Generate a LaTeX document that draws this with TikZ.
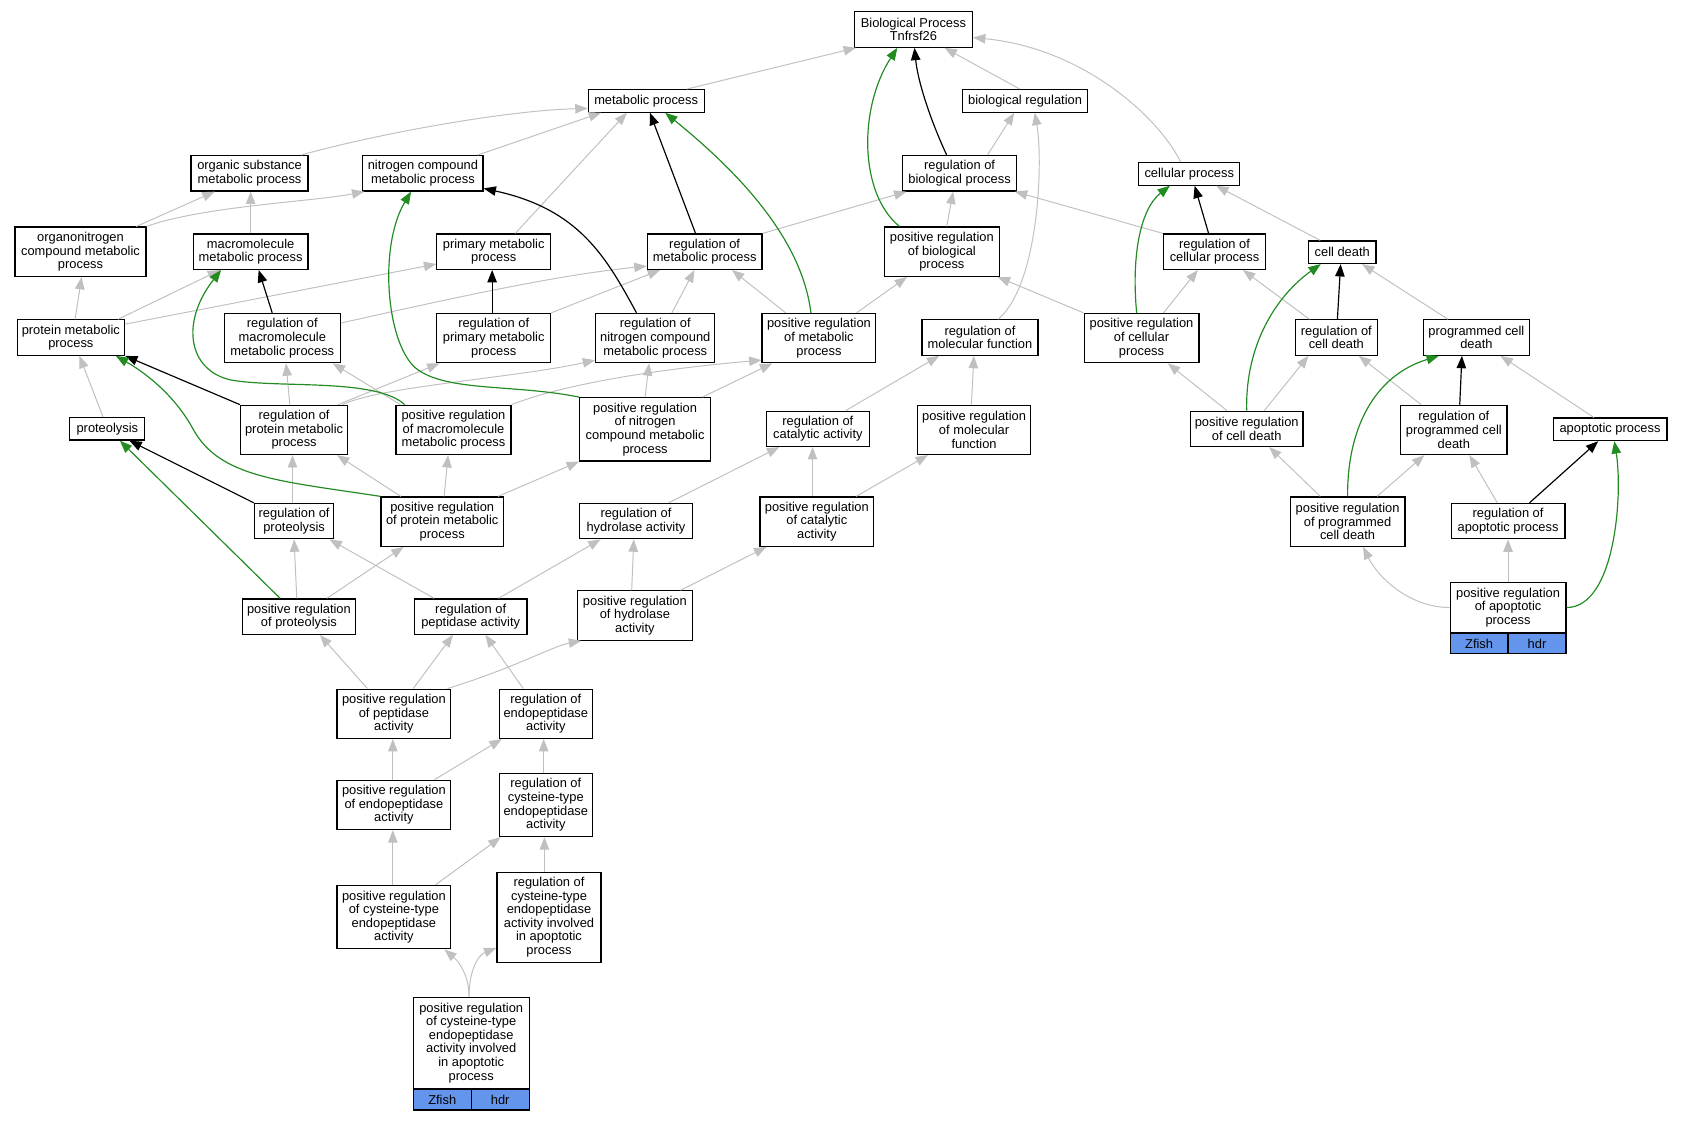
\documentclass[tikz,border=0pt]{standalone}
\usepackage{fontspec}
\setmainfont{Liberation Sans}
\usetikzlibrary{arrows.meta}
\definecolor{edgegray}{HTML}{C0C0C0}
\definecolor{fgreen}{HTML}{228B22}
\definecolor{cblue}{HTML}{6495ED}
\newcommand\fs{\fontsize{12}{12.7}\selectfont}
\newcommand\gonode[6]{\node[box,minimum width=#4pt,minimum height=#5pt] (#1) at (#2,#3) {#6};}
\tikzset{
  box/.style={draw=black, line width=1.1pt, fill=white, inner sep=0pt, align=center, font=\fs, text=black},
  zf/.style={draw=black, line width=1.1pt, fill=cblue, inner sep=0pt, align=center, font=\fs, text=black, minimum width=54pt, minimum height=19pt},
  tip/.style={-{Triangle[length=11.5pt,width=8.8pt]}},
  ge/.style={draw=edgegray, line width=0.9pt, tip},
  be/.style={draw=black, line width=1.1pt, tip},
  gr/.style={draw=fgreen, line width=1.1pt, tip},
}
\begin{document}
\begin{tikzpicture}[x=1pt,y=-1pt]
\fill[white] (0,0) rectangle (1568,1043.5);
\useasboundingbox (0,0) rectangle (1568,1043.5);
% nodes
\gonode{bp}{851}{27.5}{110}{33}{Biological Process\\Tnfrsf26}
\gonode{mp}{602}{94}{108}{21}{metabolic process}
\gonode{br}{955}{94}{116}{21}{biological regulation}
\gonode{osm}{232.5}{161.5}{109}{33}{organic substance\\metabolic process}
\gonode{ncm}{394}{161.5}{112}{33}{nitrogen compound\\metabolic process}
\gonode{rbp}{894}{161.5}{106}{33}{regulation of\\biological process}
\gonode{cp}{1108}{162}{94}{21}{cellular process}
\gonode{onc}{75}{234.5}{122}{46}{organonitrogen\\compound metabolic\\process}
\gonode{mmp}{233.5}{234.5}{107}{33}{macromolecule\\metabolic process}
\gonode{pmp}{460}{234.5}{106}{33}{primary metabolic\\process}
\gonode{rmp}{656.5}{234.5}{107}{33}{regulation of\\metabolic process}
\gonode{prbp}{877.5}{234.5}{107}{46}{positive regulation\\of biological\\process}
\gonode{rcp}{1131.5}{234.5}{95}{33}{regulation of\\cellular process}
\gonode{cd}{1250.5}{235}{63}{21}{cell death}
\gonode{prot}{66}{314.5}{100}{33}{protein metabolic\\process}
\gonode{rmmp}{263}{315}{108}{46}{regulation of\\macromolecule\\metabolic process}
\gonode{rpmp}{460}{315}{106}{46}{regulation of\\primary metabolic\\process}
\gonode{rncm}{610.5}{315}{111}{46}{regulation of\\nitrogen compound\\metabolic process}
\gonode{prmp}{763}{315}{106}{46}{positive regulation\\of metabolic\\process}
\gonode{rmf}{913}{314.5}{108}{33}{regulation of\\molecular function}
\gonode{prcp}{1063.5}{315}{107}{46}{positive regulation\\of cellular\\process}
\gonode{rcd}{1245}{314.5}{76}{33}{regulation of\\cell death}
\gonode{pcd}{1375.5}{314.5}{99}{33}{programmed cell\\death}
\gonode{pl}{100}{399.5}{70}{21}{proteolysis}
\gonode{rpm}{274}{400.5}{100}{46}{regulation of\\protein metabolic\\process}
\gonode{prmm}{422.5}{400.5}{107}{46}{positive regulation\\of macromolecule\\metabolic process}
\gonode{prnc}{601}{400}{122}{59}{positive regulation\\of nitrogen\\compound metabolic\\process}
\gonode{rca}{762}{399.5}{96}{33}{regulation of\\catalytic activity}
\gonode{prmf}{907.5}{400.5}{105}{46}{positive regulation\\of molecular\\function}
\gonode{prcd}{1161.5}{399.5}{105}{33}{positive regulation\\of cell death}
\gonode{rpcd}{1354.5}{400.5}{99}{46}{regulation of\\programmed cell\\death}
\gonode{ap}{1500}{400}{106}{21}{apoptotic process}
\gonode{rpl}{274}{485.5}{74}{33}{regulation of\\proteolysis}
\gonode{prpm}{412}{486}{114}{46}{positive regulation\\of protein metabolic\\process}
\gonode{rha}{592.5}{485.5}{105}{33}{regulation of\\hydrolase activity}
\gonode{prca}{761}{486}{106}{46}{positive regulation\\of catalytic\\activity}
\gonode{prpcd}{1255.5}{486}{107}{46}{positive regulation\\of programmed\\cell death}
\gonode{rap}{1405}{485.5}{106}{33}{regulation of\\apoptotic process}
\gonode{prpl}{278.5}{574.5}{105}{33}{positive regulation\\of proteolysis}
\gonode{rpa}{438.5}{574.5}{105}{33}{regulation of\\peptidase activity}
\gonode{prha}{591.5}{573.5}{107}{46}{positive regulation\\of hydrolase\\activity}
\gonode{prap}{1405}{566}{108}{46}{positive regulation\\of apoptotic\\process}
\gonode{prpa}{367}{665}{106}{46}{positive regulation\\of peptidase\\activity}
\gonode{rea}{508.5}{665}{87}{46}{regulation of\\endopeptidase\\activity}
\gonode{prea}{367}{750}{106}{46}{positive regulation\\of endopeptidase\\activity}
\gonode{rcea}{508.5}{750}{87}{59}{regulation of\\cysteine-type\\endopeptidase\\activity}
\gonode{prcea}{367}{854.5}{106}{59}{positive regulation\\of cysteine-type\\endopeptidase\\activity}
\gonode{rceaa}{511.5}{854.5}{97}{84}{regulation of\\cysteine-type\\endopeptidase\\activity involved\\in apoptotic\\process}
\gonode{bot}{439}{971.5}{108}{85}{positive regulation\\of cysteine-type\\endopeptidase\\activity involved\\in apoptotic\\process}
\node[zf, anchor=north west] (botz) at (bot.south west) {Zfish};
\node[zf, anchor=north east] (both) at (bot.south east) {hdr};
\node[zf, anchor=north west] (prapz) at (prap.south west) {Zfish};
\node[zf, anchor=north east] (praph) at (prap.south east) {hdr};
% grey edges
\draw[ge] ([xshift=38pt]mp.north) -- ([xshift=2pt]bp.south west);
\draw[ge] ([xshift=-5pt]br.north) -- ([xshift=29pt]bp.south);
\draw[ge] ([xshift=-8pt]cp.north) .. controls (1080,110) and (1010,45) .. ([yshift=-7.5pt]bp.east);
\draw[ge] ([xshift=-7pt]osm.north east) .. controls (350,125) and (470,103) .. ([yshift=-7pt]mp.west);
\draw[ge] ([xshift=51pt]ncm.north) -- ([xshift=-42pt]mp.south);
\draw[ge] ([xshift=20pt]pmp.north) -- ([xshift=-18pt]mp.south);
\draw[ge] ([xshift=26pt]rbp.north) -- ([xshift=-10pt]br.south);
\draw[ge] ([xshift=17pt]rmf.north) .. controls (968,265) and (972,150) .. ([xshift=9pt]br.south);
\draw[ge] ([xshift=52pt]onc.north) -- ([xshift=-32.5pt]osm.south);
\draw[ge] (onc.north east) .. controls (190,192) and (290,188) .. ([xshift=2pt]ncm.south west);
\draw[ge] (mmp.north) -- (mmp.north |- osm.south);
\draw[ge] ([xshift=4.5pt]prbp.north) -- ([xshift=-6pt]rbp.south);
\draw[ge] (rmp.north east) -- ([xshift=4pt]rbp.south west);
\draw[ge] (rcp.north west) -- ([xshift=-2pt]rbp.south east);
\draw[ge] ([xshift=-20.5pt]cd.north) -- ([xshift=25pt]cp.south);
\draw[ge] ([xshift=4pt]prot.north) -- ([xshift=1pt]onc.south);
\draw[ge] ([xshift=44pt]prot.north) -- ([xshift=-28.5pt]mmp.south);
\draw[ge] ([yshift=12.5pt]prot.east) -- ([yshift=-11.5pt]pmp.west);
\draw[ge] ([yshift=14pt]rmmp.east) .. controls (420,278) and (520,256) .. ([yshift=-13.5pt]rmp.west);
\draw[ge] (rpmp.north east) -- ([xshift=-41.5pt]rmp.south);
\draw[ge] ([xshift=15.5pt]rncm.north) -- ([xshift=-9.5pt]rmp.south);
\draw[ge] ([xshift=-31pt]prmp.north) -- ([xshift=25.5pt]rmp.south);
\draw[ge] ([xshift=35pt]prmp.north) -- ([xshift=-32.5pt]prbp.south);
\draw[ge] (prcp.north west) -- ([xshift=-2pt]prbp.south east);
\draw[ge] ([xshift=20.5pt]prcp.north) -- ([xshift=-15.5pt]rcp.south);
\draw[ge] ([xshift=-25pt]rcd.north) -- ([xshift=26.5pt]rcp.south);
\draw[ge] ([xshift=-26.5pt]pcd.north) -- ([xshift=18.5pt]cd.south);
\draw[ge] ([xshift=-4pt]pl.north) -- ([xshift=8pt]prot.south);
\draw[ge] ([xshift=-4pt]rpm.north) -- ([xshift=3.5pt]rmmp.south);
\draw[ge] ([xshift=41pt]rpm.north) -- ([xshift=3pt]rpmp.south west);
\draw[ge] ([xshift=45pt]rpm.north) .. controls (355,360) and (480,352) .. ([yshift=3pt]rncm.south west);
\draw[ge] ([xshift=-49.5pt]prmm.north) -- ([xshift=47pt]rmmp.south);
\draw[ge] (prmm.north east) .. controls (520,360) and (600,345) .. ([yshift=3pt]prmp.south west);
\draw[ge] (prnc.north) -- ([xshift=-5.7pt]rncm.south);
\draw[ge] ([xshift=53.5pt]prnc.north) -- ([xshift=10pt]prmp.south west);
\draw[ge] ([xshift=26pt]rca.north) -- ([xshift=-38pt]rmf.south);
\draw[ge] ([xshift=-2.5pt]prmf.north) -- ([xshift=-5.6pt]rmf.south);
\draw[ge] ([xshift=-18.5pt]prcd.north) -- ([xshift=24.5pt]prcp.south);
\draw[ge] ([xshift=16.5pt]prcd.north) -- ([xshift=-26pt]rcd.south);
\draw[ge] ([xshift=-30.5pt]rpcd.north) -- ([xshift=21pt]rcd.south);
\draw[ge] ([xshift=-15pt]ap.north) -- ([xshift=22.5pt]pcd.south);
\draw[ge] ([xshift=-1.5pt]rpl.north) -- ([xshift=-1.5pt]rpm.south);
\draw[ge] ([xshift=-38.6pt]prpm.north) -- ([xshift=40pt]rpm.south);
\draw[ge] ([xshift=1.8pt]prpm.north) -- ([xshift=-5pt]prmm.south);
\draw[ge] ([xshift=52pt]prpm.north) -- (prnc.south west);
\draw[ge] ([xshift=30.5pt]rha.north) -- ([xshift=-36pt]rca.south);
\draw[ge] ([xshift=-4pt]prca.north) -- ([xshift=-5pt]rca.south);
\draw[ge] ([xshift=36.7pt]prca.north) -- ([xshift=-43pt]prmf.south);
\draw[ge] ([xshift=-25.5pt]prpcd.north) -- ([xshift=21pt]prcd.south);
\draw[ge] ([xshift=27.5pt]prpcd.north) -- ([xshift=-27.5pt]rpcd.south);
\draw[ge] ([xshift=-10pt]rap.north) -- ([xshift=14.5pt]rpcd.south);
\draw[ge] ([xshift=-2pt]prpl.north) -- (rpl.south);
\draw[ge] ([xshift=26pt]prpl.north) -- ([xshift=-36pt]prpm.south);
\draw[ge] ([xshift=-34pt]rpa.north) -- ([xshift=33pt]rpl.south);
\draw[ge] ([xshift=26pt]rpa.north) -- ([xshift=-33pt]rha.south);
\draw[ge] ([xshift=-3pt]prha.north) -- ([xshift=-2pt]rha.south);
\draw[ge] ([xshift=42.5pt]prha.north) -- ([xshift=-47pt]prca.south);
\draw[ge] (prap.west) .. controls (1315,566) and (1285,540) .. ([xshift=14.5pt]prpcd.south);
\draw[ge] (prap.north) -- (rap.south);
\draw[ge] ([xshift=-24.7pt]prpa.north) -- ([xshift=19.5pt]prpl.south);
\draw[ge] ([xshift=18pt]prpa.north) -- ([xshift=-16.5pt]rpa.south);
\draw[ge] ([xshift=50pt]prpa.north) .. controls (480,622) and (515,602) .. ([xshift=4pt]prha.south west);
\draw[ge] ([xshift=-21pt]rea.north) -- ([xshift=13.7pt]rpa.south);
\draw[ge] ([xshift=-1pt]prea.north) -- ([xshift=-1pt]prpa.south);
\draw[ge] ([xshift=37.7pt]prea.north) -- ([xshift=3pt]rea.south west);
\draw[ge] ([xshift=-2pt]rcea.north) -- ([xshift=-2pt]rea.south);
\draw[ge] ([xshift=-1pt]prcea.north) -- ([xshift=-1pt]prea.south);
\draw[ge] ([xshift=38.6pt]prcea.north) -- ([xshift=2pt]rcea.south west);
\draw[ge] ([xshift=-4.3pt]rceaa.north) -- ([xshift=-1.3pt]rcea.south);
\draw[ge] ([xshift=-2pt]bot.north) .. controls (437,912) and (430,898) .. ([xshift=47pt]prcea.south);
\draw[ge] ([xshift=-2pt]bot.north) .. controls (437,905) and (445,890) .. ([yshift=14pt]rceaa.south west);
% black edges
\draw[be] ([xshift=-12pt]rbp.north) .. controls (866,110) and (855,75) .. ([xshift=1pt]bp.south);
\draw[be] ([xshift=-8.5pt]rmp.north) -- ([xshift=3.5pt]mp.south);
\draw[be] ([xshift=-17.5pt]rncm.north) .. controls (565,240) and (540,195) .. ([yshift=3pt]ncm.south east);
\draw[be] ([xshift=-9.4pt]rmmp.north) -- ([xshift=7.5pt]mmp.south);
\draw[be] ([xshift=-1.5pt]rpmp.north) -- ([xshift=-1.5pt]pmp.south);
\draw[be] ([xshift=-5.5pt]rcp.north) -- ([xshift=5pt]cp.south);
\draw[be] ([xshift=1pt]rcd.north) -- ([xshift=-1.5pt]cd.south);
\draw[be] ([xshift=5.5pt]rpcd.north) -- ([xshift=-13.5pt]pcd.south);
\draw[be] ([xshift=20pt]rap.north) -- ([xshift=-11pt]ap.south);
\draw[be] (rpm.north west) -- (prot.south east);
\draw[be] (rpl.north west) -- ([xshift=20.6pt]pl.south);
% green edges
\draw[gr] ([xshift=-39.5pt]prbp.north) .. controls (800,180) and (800,100) .. ([xshift=-15pt]bp.south);
\draw[gr] ([xshift=-7.5pt]prmp.north) .. controls (748,230) and (700,170) .. ([xshift=17.7pt]mp.south);
\draw[gr] ([xshift=-45.5pt]prmm.north) .. controls (350,352) and (260,362) .. (215,354) .. controls (175,345) and (168,300) .. ([xshift=-27.5pt]mmp.south);
\draw[gr] (prnc.north west) .. controls (480,358) and (420,365) .. (390,345) .. controls (360,325) and (352,230) .. ([xshift=-11pt]ncm.south);
\draw[gr] (prpm.north west) .. controls (260,448) and (205,445) .. (180,400) .. controls (165,372) and (140,350) .. ([xshift=42pt]prot.south);
\draw[gr] ([xshift=-17.5pt]prpl.north) -- ([xshift=11.7pt]pl.south);
\draw[gr] ([xshift=-4.5pt]prcp.north) .. controls (1054,240) and (1062,195) .. ([xshift=-18pt]cp.south);
\draw[gr] (prcd.north) .. controls (1160,320) and (1190,275) .. ([xshift=-20pt]cd.south);
\draw[gr] (prpcd.north) .. controls (1255,400) and (1280,350) .. ([xshift=-35pt]pcd.south);
\draw[gr] (prap.east) .. controls (1505,566) and (1512,460) .. ([xshift=4pt]ap.south);
\end{tikzpicture}
\end{document}
